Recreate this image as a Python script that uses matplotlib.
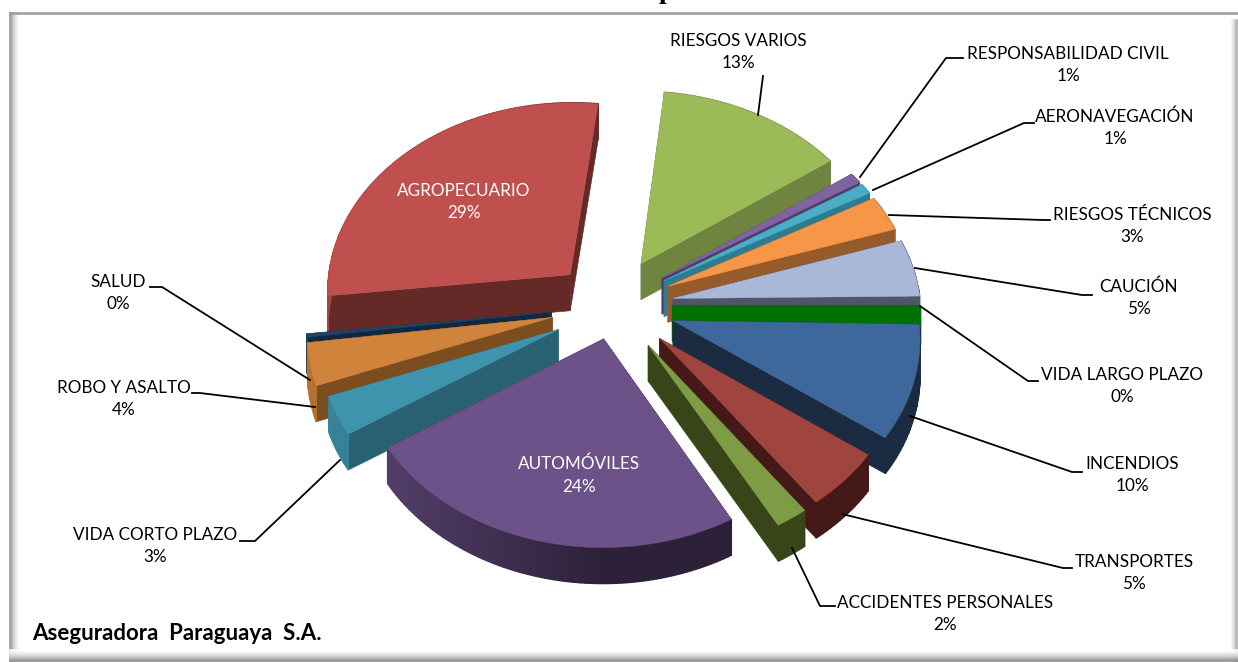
import numpy as np
import matplotlib
matplotlib.use("Agg")
import matplotlib.pyplot as plt
from matplotlib.colors import to_rgb

# datos, en orden de las agujas del reloj desde el eje x
ramos = ["VIDA LARGO PLAZO", "INCENDIOS", "TRANSPORTES", "ACCIDENTES PERSONALES",
         "AUTOMÓVILES", "VIDA CORTO PLAZO", "ROBO Y ASALTO", "SALUD", "AGROPECUARIO",
         "RIESGOS VARIOS", "RESPONSABILIDAD CIVIL", "AERONAVEGACIÓN",
         "RIESGOS TÉCNICOS", "CAUCIÓN"]
valores = [0.3, 9.6, 5.0, 2.0, 24.0, 3.4, 3.6, 0.3, 28.6, 13.4, 0.9, 0.9, 3.0, 4.8]

color_top = ["#007000", "#3E689C", "#A04440", "#7E9C45", "#6D5289", "#3F94AD", "#D0833B",
             "#1F4468", "#BF504D", "#9BBB59", "#8064A2", "#4BACC6", "#F79646", "#A9B8D9"]
color_lado = ["#007000", "#1A2B42", "#451917", "#374519", "#2C2139", "#296373", "#7C4D1E",
              "#12283E", "#652A28", "#6E843F", "#4F3D66", "#2F7C91", "#955B2B", "#4E5668"]
explode = [66, 68, 66, 62, 38, 53, 55, 55, 54, 66, 68, 68, 68, 68]
radio = [1.0, 0.985, 0.965, 0.97, 0.98, 0.95, 0.98, 0.98, 0.985, 1.0, 1.0, 1.0, 1.0, 1.0]
ajuste = [(0, -2), (2, -3), (6, -5), (8, -3), (7, 3), (0, 4), (0, 0), (0, 0), (2, -3),
          (2, 0), (0, 0), (0, 0), (0, 0), (0, 0)]
orden = [8, 9, 10, 11, 12, 13, 0, 1, 2, 3, 7, 6, 5, 4]

# etiquetas: centro del texto y linea guia (en pixeles)
etiquetas = {
    "RIESGOS VARIOS": ((738, 52), [(758, 115), (763, 76)]),
    "RESPONSABILIDAD CIVIL": ((1068, 65), [(860, 177), (946, 58), (963, 58)]),
    "AERONAVEGACIÓN": ((1115, 128), [(873, 190), (1024, 123), (1034, 123)]),
    "RIESGOS TÉCNICOS": ((1132, 226), [(889, 215), (1043, 220), (1050, 220)]),
    "CAUCIÓN": ((1139, 298), [(915, 268), (1082, 295), (1092, 295)]),
    "VIDA LARGO PLAZO": ((1122, 386), [(920, 306), (1028, 381), (1038, 381)]),
    "INCENDIOS": ((1132, 475), [(910, 416), (1072, 472), (1082, 472)]),
    "TRANSPORTES": ((1134, 573), [(842, 514), (1063, 568), (1072, 568)]),
    "ACCIDENTES PERSONALES": ((945, 614), [(792, 548), (820, 606), (835, 606)]),
    "VIDA CORTO PLAZO": ((155, 546), [(340, 460), (255, 541), (240, 541)]),
    "ROBO Y ASALTO": ((124, 399), [(315, 407), (200, 393), (192, 393)]),
    "SALUD": ((118, 293), [(310, 380), (162, 287), (150, 287)]),
}
internas = {"AGROPECUARIO": (464, 202), "AUTOMÓVILES": (579, 475)}

CX, CY = 606, 307
R = 248
DEPTH = 36
K = 0.775
P = 0.077


def proyecta(x, y):
    w = 1 + P * y / R
    return CX + x / w, CY - K * y / w


def mezcla(a, b, t):
    a, b = np.array(to_rgb(a)), np.array(to_rgb(b))
    return tuple(a + (b - a) * t)


fig = plt.figure(figsize=(12.38, 6.62), dpi=100)
ax = fig.add_axes([0, 0, 1, 1])
ax.set_xlim(0, 1238)
ax.set_ylim(662, 0)
ax.axis("off")

# marco con sombra interior
for i in range(10):
    g = mezcla("#FFFFFF", "#8C8C8C", (1 - i / 10) ** 1.6)
    ax.plot([10 + i, 10 + i], [13, 662], color=g, lw=1.1, zorder=1)
for i in range(8):
    g = mezcla("#FFFFFF", "#9A9A9A", (i / 8) ** 1.5)
    ax.plot([1230 + i, 1230 + i], [20, 662], color=g, lw=1.1, zorder=1)
for i in range(12):
    g = mezcla("#FFFFFF", "#808080", (i / 12) ** 1.6)
    ax.plot([10, 1238], [650 + i, 650 + i], color=g, lw=1.1, zorder=1)
ax.plot([10, 1238], [12.5, 12.5], color="#9C9C9C", lw=1.8, zorder=1)

# titulo cortado por el borde de la imagen
ax.text(666, -2, "p", family="Liberation Serif", weight="bold", fontsize=20,
        ha="center", va="baseline", color="black", clip_on=True)

# torta 3D: cada porcion con sus paredes y su cara superior
fin = np.cumsum(valores)
ini = fin - np.array(valores)
z = 10
for i in orden:
    a0 = -ini[i] / 100 * 2 * np.pi
    a1 = -fin[i] / 100 * 2 * np.pi
    med = (a0 + a1) / 2
    ex, ey = explode[i] * np.cos(med), explode[i] * np.sin(med)
    th = np.linspace(a0, a1, max(int(abs(a1 - a0) * 60), 6))
    dx, dy = ajuste[i]
    ax0, ay0 = proyecta(ex, ey)
    ax0, ay0 = ax0 + dx, ay0 + dy
    rx, ry = proyecta(ex + R * radio[i] * np.cos(th), ey + R * radio[i] * np.sin(th))
    rx, ry = rx + dx, ry + dy

    # paredes radiales
    paredes = []
    for xe, ye in [(rx[0], ry[0]), (rx[-1], ry[-1])]:
        paredes.append(([ax0, xe, xe, ax0], [ay0, ye, ye + DEPTH, ay0 + DEPTH]))
    paredes.sort(key=lambda p: np.mean(p[1]))
    for px, py in paredes:
        ax.fill(px, py, color=color_lado[i], lw=0.4, zorder=z)

    # borde exterior, mas claro hacia la izquierda
    for j in range(len(th) - 1):
        t = np.clip(-np.cos((th[j] + th[j + 1]) / 2), 0, 1) * 0.7
        ax.fill([rx[j], rx[j + 1], rx[j + 1], rx[j]],
                [ry[j], ry[j + 1], ry[j + 1] + DEPTH, ry[j] + DEPTH],
                color=mezcla(color_lado[i], color_top[i], t), lw=1.0, zorder=z)

    ax.fill(np.r_[ax0, rx], np.r_[ay0, ry], color=color_top[i], lw=0.3, zorder=z + 1)
    z += 2

# lineas guia y textos
fuente = "Lato"
for nombre, val in zip(ramos, valores):
    txt = f"{nombre}\n{val:.0f}%"
    if nombre in internas:
        ax.text(*internas[nombre], txt, color="white", ha="center", va="center",
                family=fuente, fontsize=12.3, linespacing=1.5, zorder=60)
    else:
        (tx, ty), linea = etiquetas[nombre]
        ax.plot([p[0] for p in linea], [p[1] for p in linea], color="black", lw=1.3, zorder=50)
        ax.text(tx, ty, txt, color="black", ha="center", va="center",
                family=fuente, fontsize=12.3, linespacing=1.5, zorder=60)

ax.text(32, 634, "Aseguradora  Paraguaya  S.A.", color="black", ha="left", va="center",
        family=fuente, weight="bold", fontsize=16, zorder=60)

fig.savefig("out.png", dpi=100)
